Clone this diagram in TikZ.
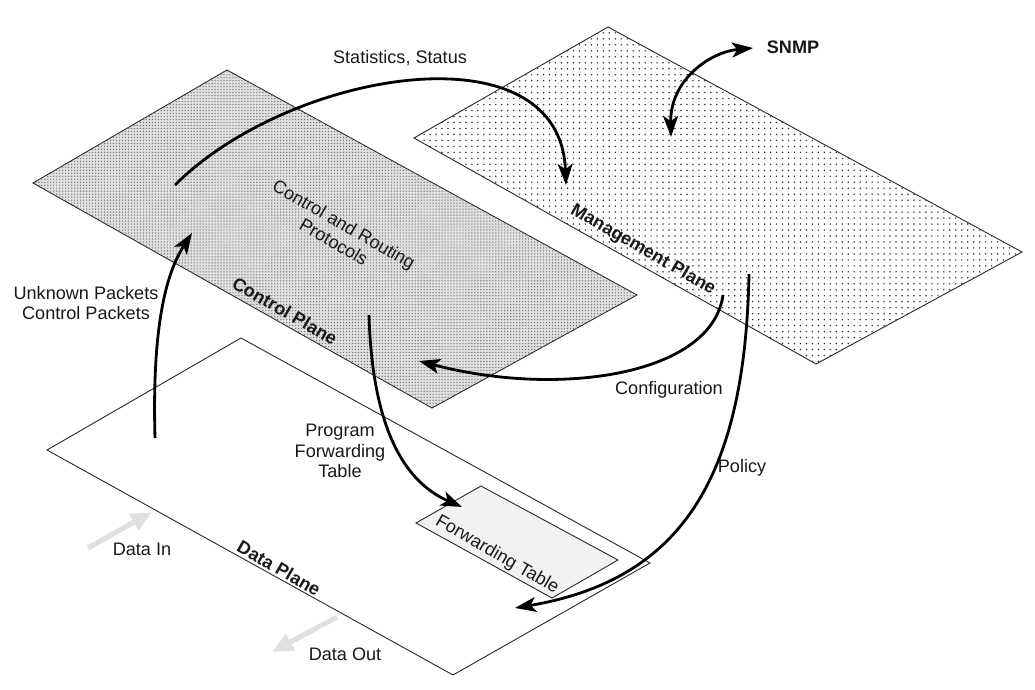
\documentclass[tikz,border=0pt]{standalone}
\usepackage{fontspec}
\setmainfont{Liberation Sans}
\usetikzlibrary{arrows.meta,patterns.meta}
\tikzset{ % common looks, so we don't repeat ourselves
	plane/.style={draw=black!85, line width=0.5pt},
	ctrlplane/.style={plane, fill=black!12,
		postaction={pattern={Dots[distance=1.7pt,radius=0.4pt]}, pattern color=black!55}},
	mgmtplane/.style={plane, fill=white,
		postaction={pattern={Dots[distance=3.4pt,radius=0.48pt]}, pattern color=black!80}},
	fwdtable/.style={plane, fill=black!5},
	flow/.style={line width=1.6pt, -{Stealth[length=12pt,width=8.5pt,inset=3pt]}},
	twoway/.style={line width=1.6pt, {Stealth[length=12pt,width=8.5pt,inset=3pt]}-{Stealth[length=12pt,width=8.5pt,inset=3pt]}},
	dataflow/.style={line width=3pt, draw=black!12, -{Triangle[length=12pt,width=10pt]}},
	lbl/.style={font=\fontsize{10.3}{11.6}\selectfont, text=black!90, align=center, inner sep=0pt},
	planelbl/.style={lbl, font=\fontsize{10.3}{11.6}\selectfont\bfseries, rotate=-30}
}

\begin{document}
\begin{tikzpicture}[x=0.02cm, y=-0.02cm]
	\useasboundingbox (0,0) rectangle (1035,690);
	% Planes
	\path[mgmtplane] (414,138) -- (608,27) -- (1022,252) -- (816,364) -- cycle;
	\path[ctrlplane] (33,183) -- (227,70) -- (637,295) -- (432,408) -- cycle;
	\path[plane, fill=white] (47,450) -- (241,338) -- (650,563) -- (453,675) -- cycle;
	\path[fwdtable] (416,523) -- (481,486) -- (618,560) -- (552,598) -- cycle;
	% Plane labels
	\node[lbl, rotate=-30] (protocols) at (339,233) {Control and Routing\\Protocols};
	\node[planelbl] (ctrllbl) at (285,311) {Control Plane};
	\node[planelbl] (mgmtlbl) at (643,250) {Management Plane};
	\node[planelbl] (datalbl) at (279,568) {Data Plane};
	\node[lbl, rotate=-30] (fwdlbl) at (497,555) {Forwarding Table};
	% Arrow labels
	\node[lbl] (stattxt) at (400,58) {Statistics, Status};
	\node[lbl, font=\fontsize{10.3}{11.6}\selectfont\bfseries] (snmp) at (793,47) {SNMP};
	\node[lbl] (unknown) at (86,303) {Unknown Packets\\Control Packets};
	\node[lbl] (conftxt) at (669,390) {Configuration};
	\node[lbl] (policytxt) at (742,468) {Policy};
	\node[lbl] (progtxt) at (340,451) {Program\\Forwarding\\Table};
	\node[lbl] (datain) at (142,549) {Data In};
	\node[lbl] (dataout) at (345,654) {Data Out};
	% Arrow ends
	\coordinate (stat-a) at (175,185);
	\coordinate (stat-b) at (566,185);
	\coordinate (snmp-a) at (671,137);
	\coordinate (snmp-b) at (753,48);
	\coordinate (conf-a) at (723,295);
	\coordinate (conf-b) at (419,361);
	\coordinate (pol-a) at (749,274);
	\coordinate (pol-b) at (515,608);
	\coordinate (unk-a) at (155,438);
	\coordinate (unk-b) at (192,233);
	\coordinate (prog-a) at (369,315);
	\coordinate (prog-b) at (462,507);
	\coordinate (in-a) at (88,548);
	\coordinate (in-b) at (152,512);
	\coordinate (out-a) at (337,617);
	\coordinate (out-b) at (272,652);
	% Arrows
	\draw[dataflow] (in-a) -- (in-b);
	\draw[dataflow] (out-a) -- (out-b);
	\draw[flow] (stat-a) .. controls (290,70) and (560,25) .. (stat-b);
	\draw[twoway] (snmp-a) .. controls (670,80) and (710,52) .. (snmp-b);
	\draw[flow] (conf-a) .. controls (712,375) and (560,398) .. (conf-b);
	\draw[flow] (pol-a) .. controls (745,480) and (680,580) .. (pol-b);
	\draw[flow] (unk-a) .. controls (152,330) and (165,275) .. (unk-b);
	\draw[flow] (prog-a) .. controls (372,420) and (400,480) .. (prog-b);
\end{tikzpicture}
\end{document}
